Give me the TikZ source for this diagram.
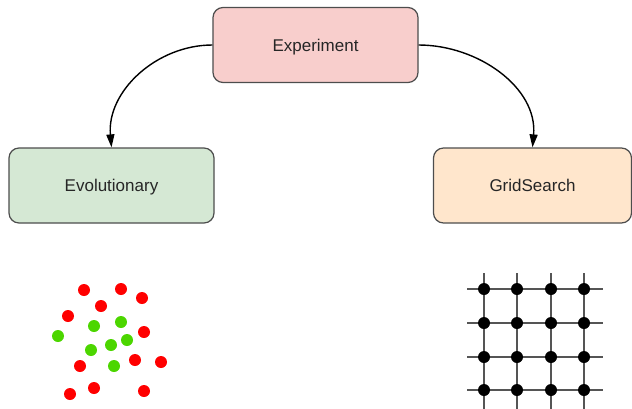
\documentclass[tikz,border=0pt]{standalone}
\usepackage{fontspec}
\setmainfont{Liberation Sans}
\usetikzlibrary{arrows.meta}
\definecolor{exfill}{HTML}{F8CECC}
\definecolor{evfill}{HTML}{D5E8D4}
\definecolor{gsfill}{HTML}{FFE6CC}
\definecolor{boxline}{HTML}{4D4D4D}
\definecolor{dotred}{HTML}{FF0000}
\definecolor{dotgreen}{HTML}{4CD600}
\definecolor{gridline}{HTML}{555555}
\tikzset{
  stage/.style={draw=boxline, line width=1.2pt, rounded corners=10pt,
    minimum width=#1, minimum height=75pt, inner sep=0pt,
    text height=12pt, text depth=0pt,
    font=\fontsize{17}{20}\selectfont, text=black!85},
  flow/.style={-{Triangle[length=13pt,width=8pt]}, line width=1.4pt},
  reddot/.style={fill=dotred},
  greendot/.style={fill=dotgreen},
  gridrule/.style={draw=gridline, line width=1.6pt},
}
\begin{document}
\begin{tikzpicture}[x=1pt,y=-1pt]
\useasboundingbox (0,0) rectangle (632,408);

% stages
\node[stage=205pt, fill=exfill] (exp) at (315.5,45) {Experiment};
\node[stage=205pt, fill=evfill] (evo) at (111.5,185.5) {Evolutionary};
\node[stage=198pt, fill=gsfill] (grid) at (532.5,185.5) {GridSearch};

% connectors
\draw[flow] (exp.west) to[out=180,in=95,looseness=1.0] (evo.north);
\draw[flow] (exp.east) to[out=0,in=85,looseness=1.0] (grid.north);

% random population
\foreach \px/\py in {84/290,121/289,142/298,101/306,68/316,144/332,135/360,161/362,80/366,94/388,70/394,144/391}
  \fill[reddot] (\px,\py) circle (6pt);
\foreach \px/\py in {94/326,121/322,58/336,111/345,127/340,91/350,114/366}
  \fill[greendot] (\px,\py) circle (6pt);

% regular grid of samples
\foreach \gx in {484,517,551,584}
  \draw[gridrule] (\gx,273) -- (\gx,410);
\foreach \gy in {289,323,357,390}
  \draw[gridrule] (467,\gy) -- (603,\gy);
\foreach \gx in {484,517,551,584}
  \foreach \gy in {289,323,357,390}
    \fill (\gx,\gy) circle (6pt);
\end{tikzpicture}
\end{document}
